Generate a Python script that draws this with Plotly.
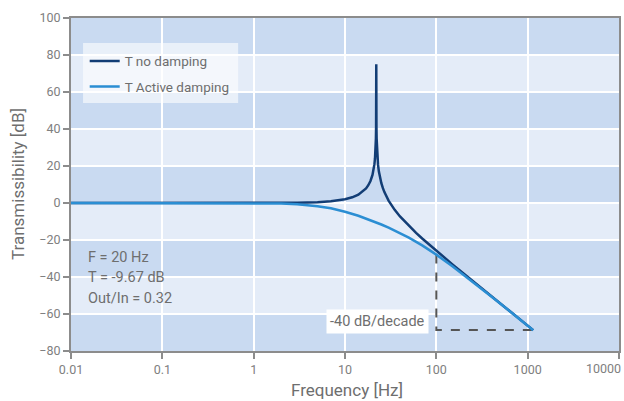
import plotly.graph_objects as go

# --- data ---
freq_nodamp = [0.01, 0.1, 1, 2, 3, 5, 7, 10, 12, 14, 16, 17, 18, 19, 20, 20.5, 21, 21.3, 21.5,
               21.7, 21.8, 21.9, 21.95, 22, 22.05, 22.1, 22.2, 22.3, 22.5, 22.7, 23, 23.5, 24,
               25, 26, 27, 30, 35, 40, 50, 60, 70, 85, 100, 150, 200, 300, 400, 600, 800, 1150]
t_nodamp = [0.0, 0.0, 0.02, 0.07, 0.16, 0.46, 0.93, 2.01, 3.07, 4.51, 6.54, 7.9, 9.61, 11.9, 15.2,
            17.6, 21.0, 24.07, 26.9, 31.3, 34.8, 40.8, 46.9, 75.0, 46.8, 40.8, 34.8, 31.2, 26.75,
            23.8, 20.6, 17.0, 14.4, 10.7, 8.03, 5.9, 1.31, -3.7, -7.26, -12.39, -16.18, -19.2,
            -22.88, -25.87, -33.16, -38.24, -45.34, -50.36, -57.42, -62.42, -68.73]

freq_active = [0.01, 0.1, 0.5, 1, 2, 3, 5, 7, 10, 14, 17, 20, 25, 30, 40, 50, 70, 100, 150,
               200, 300, 400, 600, 800, 1150]
t_active = [0.0, 0.0, -0.02, -0.08, -0.32, -0.69, -1.70, -2.88, -4.69, -6.89, -8.36, -9.68,
            -11.63, -13.34, -16.27, -18.76, -22.94, -27.91, -34.13, -38.80, -45.60, -50.50,
            -57.48, -62.46, -68.75]

slope_x = [100, 100, 1150]
slope_y = [-27.9, -68.7, -68.7]

y_ticks = [-80, -60, -40, -20, 0, 20, 40, 60, 80, 100]
x_ticks = [0.01, 0.1, 1, 10, 100, 1000, 10000]
x_tick_labels = ["0.01", "0.1", "1", "10", "100", "1000", "10000"]
dark_bands = [(80, 100), (40, 60), (0, 20), (-40, -20), (-80, -60)]

info_lines = ["F = 20 Hz", "T = -9.67 dB", "Out/In = 0.32"]
x_title = "Frequency [Hz]"
y_title = "Transmissibility [dB]"

NAVY = "#123d75"
LIGHT = "#2b8ed3"
GREY = "#6e6e6e"
TICKGREY = "#808080"
FONT = "Roboto"

W, H = 624, 401
ML, MR, MT, MB = 71, 5, 18, 50
PW, PH = W - ML - MR, H - MT - MB

fig = go.Figure()
fig.add_trace(go.Scatter(x=slope_x, y=slope_y, mode="lines", showlegend=False,
                         line=dict(color="#555555", width=2, dash="dash")))
fig.add_trace(go.Scatter(x=freq_nodamp, y=t_nodamp, mode="lines", name="T no damping",
                         legendgroup="a",
                         line=dict(color=NAVY, width=2.5)))
fig.add_trace(go.Scatter(x=freq_active, y=t_active, mode="lines", name="T Active damping",
                         legendgroup="b",
                         line=dict(color=LIGHT, width=2.5)))

shapes = []
for lo, hi in dark_bands:
    shapes.append(dict(type="rect", xref="paper", yref="y", x0=0, x1=1, y0=lo, y1=hi,
                       fillcolor="#c9daf1", line=dict(width=0), layer="below"))
# legend box
shapes.append(dict(type="rect", xref="paper", yref="paper", x0=0.022, x1=0.305,
                   y0=0.745, y1=0.925, fillcolor="rgba(255,255,255,0.6)",
                   line=dict(width=0), layer="between"))

annotations = [dict(x=1.915, y=-63.9, xref="x", yref="y", text="-40 dB/decade",
                    showarrow=False, xanchor="right", yanchor="middle",
                    bgcolor="white", borderpad=3,
                    font=dict(family=FONT, size=14.5, color=GREY))]
for i, t in enumerate(info_lines):
    annotations.append(dict(x=0.028, y=-29.2 - i * 11.2, xref="paper", yref="y", text=t,
                            showarrow=False, xanchor="left", yanchor="middle",
                            font=dict(family=FONT, size=14.5, color=GREY)))
# axis titles
annotations.append(dict(x=(347 - ML) / PW, y=(H - MB - 390) / PH, xref="paper", yref="paper",
                        text=x_title, showarrow=False, xanchor="center", yanchor="middle",
                        font=dict(family=FONT, size=17, color=GREY)))
annotations.append(dict(x=(18 - ML) / PW, y=(H - MB - 184) / PH, xref="paper", yref="paper",
                        text=y_title, showarrow=False, xanchor="center", yanchor="middle",
                        textangle=-90, font=dict(family=FONT, size=17, color=GREY)))
# last x tick label, kept inside the page edge
annotations.append(dict(x=(W - 1 - ML) / PW, y=(H - MB - 369) / PH, xref="paper", yref="paper",
                        text=x_tick_labels[-1], showarrow=False, xanchor="right",
                        yanchor="middle", xshift=0,
                        font=dict(family=FONT, size=12.5, color=TICKGREY)))

shown_labels = x_tick_labels[:-1] + [""]

fig.update_layout(
    width=W, height=H,
    margin=dict(l=ML, r=MR, t=MT, b=MB, autoexpand=False),
    paper_bgcolor="white",
    plot_bgcolor="#e4ecf8",
    shapes=shapes,
    annotations=annotations,
    font=dict(family=FONT, color=GREY),
    legend=dict(x=0.025, y=0.917, xanchor="left", yanchor="top",
                bgcolor="rgba(0,0,0,0)", borderwidth=0,
                font=dict(family=FONT, size=13.5, color=GREY),
                itemwidth=30, tracegroupgap=5),
)
fig.update_xaxes(type="log", range=[-2, 4], tickvals=x_ticks, ticktext=shown_labels,
                 automargin=False,
                 showgrid=True, gridcolor="white", gridwidth=2,
                 showline=True, linecolor="#8c8c8c", linewidth=2, mirror=True,
                 ticks="outside", ticklen=6, tickcolor="#8c8c8c", tickwidth=1.5,
                 tickfont=dict(family=FONT, size=12.5, color=TICKGREY),
                 zeroline=False)
fig.update_yaxes(range=[-80, 100], tickvals=y_ticks, automargin=False,
                 showgrid=True, gridcolor="white", gridwidth=2,
                 showline=True, linecolor="#8c8c8c", linewidth=2, mirror=True,
                 ticks="outside", ticklen=6, tickcolor="#8c8c8c", tickwidth=1.5,
                 tickfont=dict(family=FONT, size=12.5, color=TICKGREY),
                 zeroline=False)

fig.write_html("out.html")
